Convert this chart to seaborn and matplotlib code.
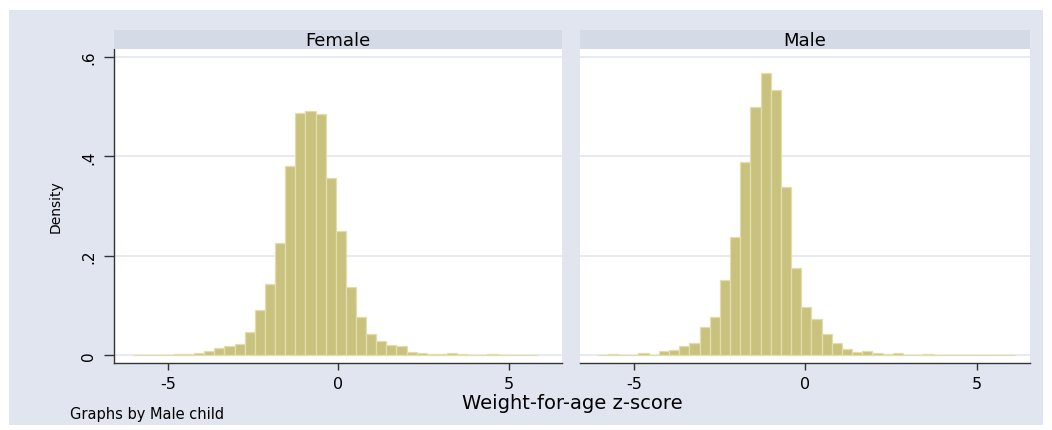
import numpy as np
import pandas as pd
import matplotlib
matplotlib.use("Agg")
import matplotlib.pyplot as plt
from matplotlib.patches import Rectangle
import seaborn as sns

# ---- data ----
panels = ["Female", "Male"]

female_start = -6.01
female_width = 0.2967
female_density = [0.001, 0.001, 0.001, 0.001, 0.0034, 0.0034, 0.0054, 0.0094, 0.014, 0.018,
                  0.022, 0.046, 0.091, 0.143, 0.226, 0.380, 0.487, 0.491, 0.485, 0.356,
                  0.249, 0.137, 0.078, 0.042, 0.028, 0.021, 0.018, 0.0067, 0.004, 0.0034,
                  0.002, 0.004, 0.002, 0.0007, 0.0007, 0.002, 0.0, 0.0, 0.0007, 0.0007]

male_start = -6.06
male_width = 0.297
male_density = [0.0007, 0.002, 0.0007, 0.0013, 0.0054, 0.0013, 0.008, 0.011, 0.018, 0.024,
                 0.056, 0.078, 0.151, 0.237, 0.388, 0.499, 0.567, 0.534, 0.338, 0.176,
                 0.097, 0.074, 0.042, 0.025, 0.013, 0.0067, 0.008, 0.004, 0.0027, 0.004,
                 0.0013, 0.001, 0.002, 0.0007, 0.0, 0.0007, 0.0, 0.0007, 0.0007, 0.0,
                 0.0007]

x_ticks = [-5, 0, 5]
x_tick_labels = ["-5", "0", "5"]
y_ticks = [0, 0.2, 0.4, 0.6]
y_tick_labels = ["0", ".2", ".4", ".6"]

x_title = "Weight-for-age z-score"
y_title = "Density"
note = "Graphs by Male child"

# ---- style ----
sns.set_theme(style="white")
plt.rcParams["font.family"] = ["DejaVu Sans"]

BG = "#E1E5F0"
STRIP = "#D4DAE6"
BAR = "#C9C27F"
BAR_EDGE = "#E2DEAA"
GRID = "#E4E6F1"
AXIS = "#333333"

W, H = 1052, 431
fig = plt.figure(figsize=(W / 100, H / 100), dpi=100)
fig.patch.set_facecolor("white")
fig.add_artist(Rectangle((9 / W, 1 - 426 / H), (1043 - 9) / W, (426 - 11) / H,
                         transform=fig.transFigure, facecolor=BG, edgecolor="none", zorder=-10))

def fx(px):
    return px / W

def fy(py):
    return 1 - py / H

ax_left = [114, 580]
ax_right = [562, 1030]
ax_top, ax_bot = 50, 364.3
strip_top = 31

datasets = {
    "Female": (female_start, female_width, female_density),
    "Male": (male_start, male_width, male_density),
}

for i, name in enumerate(panels):
    start, width, dens = datasets[name]
    n = len(dens)
    edges = [float(start + width * k) for k in range(n + 1)]
    centers = [(edges[k] + edges[k + 1]) / 2 for k in range(n)]
    df = pd.DataFrame({"z": centers, "density": dens})

    ax = fig.add_axes([fx(ax_left[i]), fy(ax_bot), fx(ax_right[i] - ax_left[i]),
                       (ax_bot - ax_top) / H])
    ax.set_facecolor("white")
    for yv in y_ticks:
        ax.axhline(yv, color=GRID, lw=1.2, zorder=0)
    sns.histplot(data=df, x="z", weights="density", bins=edges, stat="count",
                 color=BAR, edgecolor=BAR_EDGE, linewidth=0.9, alpha=1, ax=ax, zorder=2)
    ax.set_xlim(-6.58, 6.56)
    ax.set_ylim(-0.016, 0.6157)
    ax.set_xlabel("")
    ax.set_ylabel("")
    ax.set_xticks(x_ticks)
    ax.set_xticklabels(x_tick_labels, fontsize=11.5, color="black")
    ax.tick_params(axis="x", bottom=True, length=5, width=1, color=AXIS, pad=4)
    for s in ["top", "right"]:
        ax.spines[s].set_visible(False)
    ax.spines["bottom"].set_color(AXIS)
    ax.spines["bottom"].set_linewidth(1)
    if i == 0:
        ax.set_yticks(y_ticks)
        ax.set_yticklabels(y_tick_labels, fontsize=11, rotation=90, va="center", color="black")
        ax.tick_params(axis="y", left=True, length=7, width=1, color=AXIS, pad=6)
        ax.spines["left"].set_color(AXIS)
        ax.spines["left"].set_linewidth(1)
    else:
        ax.set_yticks([])
        ax.spines["left"].set_visible(False)

    # strip header
    sax = fig.add_axes([fx(ax_left[i]), fy(ax_top), fx(ax_right[i] - ax_left[i]),
                        (ax_top - strip_top) / H])
    sax.set_facecolor(STRIP)
    sax.set_xticks([])
    sax.set_yticks([])
    for s in sax.spines.values():
        s.set_visible(False)
    sax.text(0.5, 0.5, name, ha="center", va="center", fontsize=13, color="black",
             transform=sax.transAxes)

fig.text(fx(572), fy(404), x_title, ha="center", va="center", fontsize=14, color="black")
fig.text(fx(56), fy(207), y_title, ha="center", va="center", rotation=90, fontsize=10,
         color="black")
fig.text(fx(70), fy(415), note, ha="left", va="center", fontsize=10.5, color="black")

fig.savefig("out.png", dpi=100, facecolor=fig.get_facecolor())
